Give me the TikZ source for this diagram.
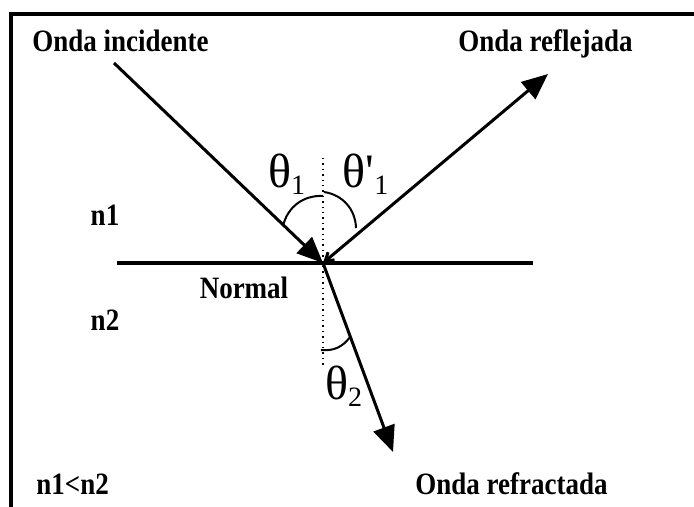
\documentclass[tikz,border=0pt]{standalone}
\usepackage{fontspec}
\usepackage{graphicx}
\setmainfont{Liberation Serif}
\usetikzlibrary{arrows.meta}
\newcommand{\tallbox}[1]{\scalebox{1}[1.15]{#1}}
\newcommand{\subnum}[1]{\textsubscript{\fontsize{14}{15}\selectfont #1}}

\begin{document}
\begin{tikzpicture}[
  x=0.5pt,y=-0.5pt,
  lbl/.style={font=\bfseries\fontsize{13.5}{15}\selectfont,inner sep=0pt},
  ang/.style={font=\fontsize{24}{26}\selectfont,inner sep=0pt},
  ray/.style={line width=1.5pt,-{Triangle[length=13pt,width=11pt]}},
  arcl/.style={line width=1pt}
]
  \useasboundingbox (0,0) rectangle (694,507);
  % frame (top and left edges)
  \draw[line width=1.6pt] (11,507) -- (11,14) -- (694,14);
  % interface and normal
  \coordinate (il) at (117,263);
  \coordinate (ir) at (533,263);
  \coordinate (o) at (323,263);
  \coordinate (nt) at (323,158);
  \coordinate (nb) at (323,368);
  \draw[line width=1.8pt] (il) -- (ir);
  \draw[dotted,line width=0.7pt] (nt) -- (nb);
  % rays
  \coordinate (inc) at (114,63);
  \coordinate (refl) at (548,74);
  \coordinate (refr) at (393,452);
  \draw[ray] (inc) -- (o);
  \draw[ray,{Straight Barb[length=4pt,width=5pt]}-{Triangle[length=13pt,width=11pt]}] (o) -- (refl);
  \draw[ray] (o) -- (refr);
  % angle arcs
  \coordinate (a1) at (323,196);
  \coordinate (a1e) at (283,226);
  \coordinate (a2) at (324,192);
  \coordinate (a2e) at (356,228);
  \coordinate (a3) at (321,350);
  \coordinate (a3e) at (350,337);
  \draw[arcl] (a1) to[bend right=40] (a1e);
  \draw[arcl] (a2) to[bend left=40] (a2e);
  \draw[arcl] (a3) to[bend right=30] (a3e);
  % angle labels
  \node[ang] (th1) at (287,174) {θ\subnum{1}};
  \node[ang] (th1p) at (366,174) {θ\textquotesingle\subnum{1}};
  \node[ang] (th2) at (344,386) {θ\subnum{2}};
  % texts
  \node[lbl,anchor=base west] (tinc) at (32,52) {\tallbox{Onda incidente}};
  \node[lbl,anchor=base west] (trefl) at (458,52) {\tallbox{Onda reflejada}};
  \node[lbl] (tn1) at (105,215) {\tallbox{n1}};
  \node[lbl] (tn2) at (105,320) {\tallbox{n2}};
  \node[lbl] (tnorm) at (244,288) {\tallbox{Normal}};
  \node[lbl,anchor=base west] (tineq) at (36,494) {\tallbox{n1<n2}};
  \node[lbl,anchor=base west] (trefr) at (415,494) {\tallbox{Onda refractada}};
\end{tikzpicture}
\end{document}
